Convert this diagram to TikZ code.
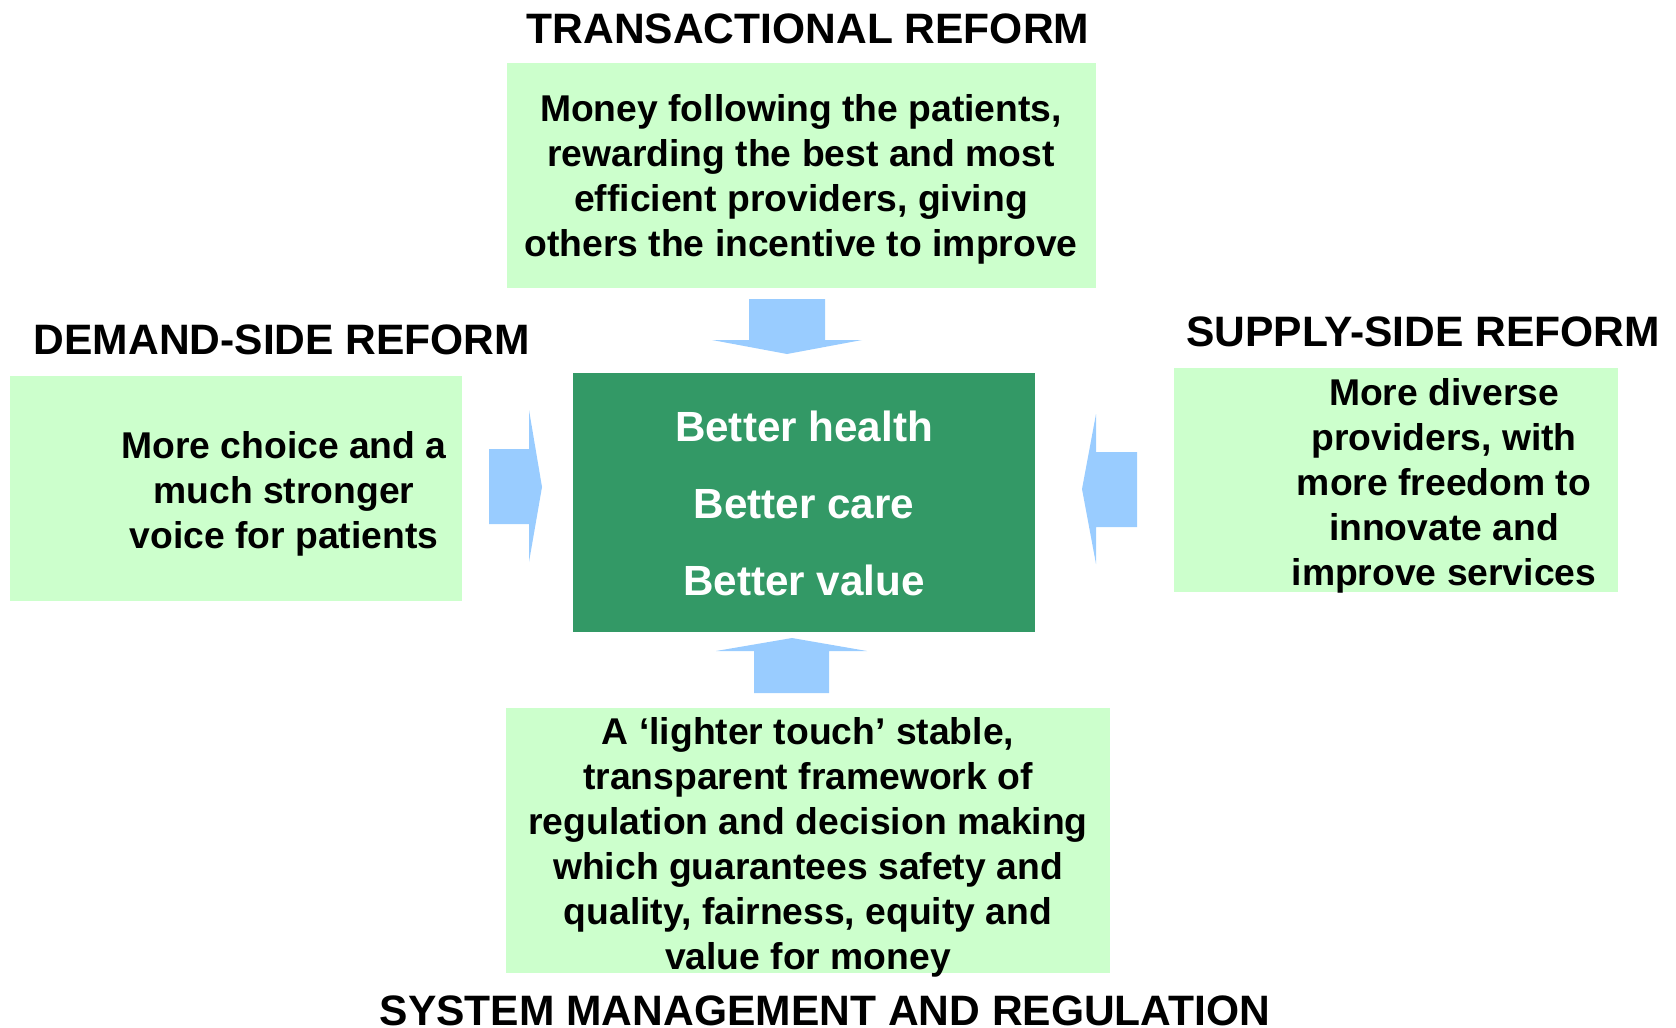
\documentclass[tikz,border=0pt]{standalone}
\usepackage{fontspec}
\setmainfont{Liberation Sans}
\usepackage{tikz}

\definecolor{palegreen}{HTML}{CCFFCC}
\definecolor{darkgreen}{HTML}{339966}
\definecolor{arrowblue}{HTML}{99CCFF}

\begin{document}
\begin{tikzpicture}[x=0.01cm,y=-0.01cm,
box/.style={fill=palegreen,draw=none,inner sep=0pt},
txt/.style={align=center,font=\fontsize{10.6}{12.8}\selectfont\bfseries},
title/.style={font=\fontsize{12.1}{14}\selectfont\bfseries},
blockarrow/.style={fill=arrowblue,draw=none}]
\useasboundingbox (0,0) rectangle (1676,1027);

\node[box,minimum width=5.89cm,minimum height=2.25cm] (top) at (801.5,175.5) {};
\node[box,minimum width=4.52cm,minimum height=2.25cm] (left) at (236,488.5) {};
\node[box,minimum width=4.44cm,minimum height=2.24cm] (right) at (1396,480) {};
\node[box,minimum width=6.04cm,minimum height=2.65cm] (bottom) at (808,840.5) {};
\node[fill=darkgreen,inner sep=0pt,minimum width=4.62cm,minimum height=2.59cm] (core) at (804,502.5) {};

\node[title] (ttop) at (808,29) {TRANSACTIONAL REFORM};
\node[title] (tleft) at (282,340) {DEMAND-SIDE REFORM};
\node[title] (tright) at (1423,332) {SUPPLY-SIDE REFORM};
\node[title] (tbottom) at (825,1011) {SYSTEM MANAGEMENT AND REGULATION};

\node[txt] (xtop) at (801,179) {Money following the patients,\\rewarding the best and most\\efficient providers, giving\\others the incentive to improve};
\node[txt] (xleft) at (284,494) {More choice and a\\much stronger\\voice for patients};
\node[txt] (xright) at (1444,486) {More diverse\\providers, with\\more freedom to\\innovate and\\improve services};
\node[txt] (xbottom) at (808,847) {A `lighter touch' stable,\\transparent framework of\\regulation and decision making\\which guarantees safety and\\quality, fairness, equity and\\value for money};
\node[align=center,text=white,font=\fontsize{12}{21.9}\selectfont\bfseries] (xcore) at (804,503) {Better health\\Better care\\Better value};

% block arrows
\fill[blockarrow] (749,299) -- (825,299) -- (825,340) -- (862,340) -- (787,354) -- (712,340) -- (749,340) -- cycle;
\fill[blockarrow] (754,693) -- (829,693) -- (829,651) -- (867,651) -- (792,638) -- (716,651) -- (754,651) -- cycle;
\fill[blockarrow] (489,449) -- (529,449) -- (529,410) -- (542,487) -- (529,562) -- (529,524) -- (489,524) -- cycle;
\fill[blockarrow] (1137,452) -- (1096,452) -- (1096,414) -- (1082,489) -- (1096,564) -- (1096,527) -- (1137,527) -- cycle;

\end{tikzpicture}
\end{document}
